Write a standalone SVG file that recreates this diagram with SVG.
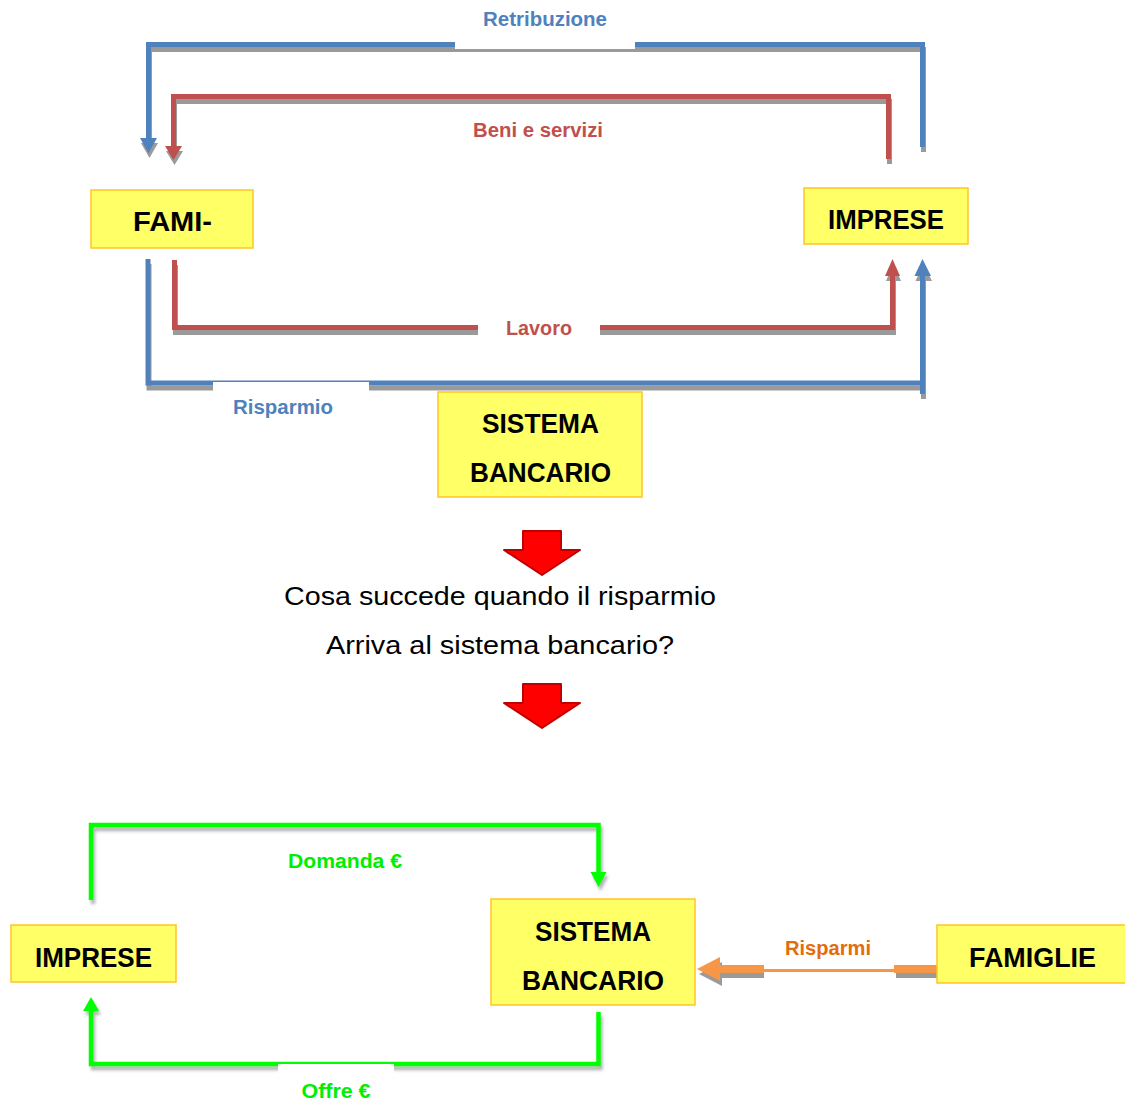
<svg xmlns="http://www.w3.org/2000/svg" width="1125" height="1102" viewBox="0 0 1125 1102">
<style>
.box{fill:#FFFF66;stroke:#FFC526;stroke-width:1.5}
.bt{font-family:"Liberation Sans",Arial,sans-serif;font-weight:bold;font-size:27.5px;fill:#000;text-anchor:middle}
.lb{font-family:"Liberation Sans",Arial,sans-serif;font-weight:bold;font-size:20px;text-anchor:middle}
.q{font-family:"Liberation Sans",Arial,sans-serif;font-size:26.5px;fill:#000;text-anchor:middle}
.sh{fill:none;stroke:#9A9A9A;stroke-width:5}
.shf{fill:#9A9A9A}
.blue{fill:none;stroke:#4F81BD;stroke-width:5}
.red{fill:none;stroke:#C0504D;stroke-width:5}
.grn{fill:none;stroke:#00FF00;stroke-width:4.5}
.gsh{fill:none;stroke:#B5B5B5;stroke-width:4.5}
.blk{fill:#FF0000;stroke:#C00000;stroke-width:2;stroke-linejoin:round}
</style>
<defs>
<filter id="blur" x="-10%" y="-10%" width="120%" height="120%"><feGaussianBlur stdDeviation="1.5"/></filter>
</defs>
<rect width="1125" height="1102" fill="#fff"/>

<g id="connectors">
  <g transform="translate(1,5)">
    <path class="sh" d="M922.5,147 V44.5 H148.5 V140"/>
    <polygon class="shf" points="140,138 157,138 148.5,153"/>
    <path class="sh" d="M888.5,159 V96.5 H173.5 V148"/>
    <polygon class="shf" points="165,146 182,146 173.5,160"/>
    <path class="sh" d="M148,259 V383 H922.5"/>
    <path class="sh" d="M922.5,394 V274"/>
    <polygon class="shf" points="914.5,276 931,276 922.5,259"/>
    <path class="sh" d="M174.5,260 V327.5 H892.5 V274"/>
    <polygon class="shf" points="885,276 900,276 892.5,259"/>
  </g>
  <g id="edge-retribuzione">
    <path class="blue" d="M922.5,147 V44.5 H148.5 V140"/>
    <polygon fill="#4F81BD" points="140,138 157,138 148.5,153"/>
  </g>
  <g id="edge-beni">
    <path class="red" d="M888.5,159 V96.5 H173.5 V148"/>
    <polygon fill="#C0504D" points="165,146 182,146 173.5,160"/>
  </g>
  <g id="edge-risparmio">
    <path class="blue" d="M148,259 V383 H922.5"/>
    <path class="blue" d="M922.5,394 V274"/>
    <polygon fill="#4F81BD" points="914.5,276 931,276 922.5,259"/>
  </g>
  <g id="edge-lavoro">
    <path class="red" d="M174.5,260 V327.5 H892.5 V274"/>
    <polygon fill="#C0504D" points="885,276 900,276 892.5,259"/>
  </g>
  <rect x="455" y="36" width="180" height="13" fill="#fff"/>
  <rect x="213" y="382" width="156" height="11" fill="#fff"/>
  <rect x="478" y="320" width="122" height="17" fill="#fff"/>

  <g filter="url(#blur)" transform="translate(2,4)">
    <path class="gsh" d="M91,900 V825 H598.5 V873"/>
    <polygon fill="#B5B5B5" points="590.5,872 606.5,872 598.5,887"/>
    <path class="gsh" d="M598.5,1012 V1064 H91 V1010"/>
    <polygon fill="#B5B5B5" points="83,1011 99,1011 91,997"/>
  </g>
  <g id="edge-domanda">
    <path class="grn" d="M91,900 V825 H598.5 V873"/>
    <polygon fill="#00FF00" points="590.5,872 606.5,872 598.5,887"/>
  </g>
  <g id="edge-offre">
    <path class="grn" d="M598.5,1012 V1064 H91 V1010"/>
    <polygon fill="#00FF00" points="83,1011 99,1011 91,997"/>
  </g>
  <rect x="278" y="1064" width="116" height="12" fill="#fff"/>

  <g id="edge-risparmi">
    <g transform="translate(2,5)">
      <rect x="718" y="965" width="46" height="8" fill="#9A9A9A"/>
      <rect x="894" y="965" width="43" height="8" fill="#9A9A9A"/>
      <polygon fill="#9A9A9A" points="697,969 720,957 720,981"/>
    </g>
    <rect x="718" y="965" width="219" height="8" fill="#F79646"/>
    <polygon fill="#F79646" points="697,969 720,957 720,981"/>
    <rect x="764" y="955" width="130" height="14" fill="#fff"/>
    <rect x="764" y="972" width="130" height="9" fill="#fff"/>
  </g>
</g>

<g id="labels">
  <text class="lb" x="545" y="26" fill="#4F81BD" textLength="124" lengthAdjust="spacingAndGlyphs">Retribuzione</text>
  <text class="lb" x="538" y="137" fill="#C0504D" textLength="130" lengthAdjust="spacingAndGlyphs">Beni e servizi</text>
  <text class="lb" x="539" y="335" fill="#C0504D" textLength="66" lengthAdjust="spacingAndGlyphs">Lavoro</text>
  <text class="lb" x="283" y="414" fill="#4F81BD" textLength="100" lengthAdjust="spacingAndGlyphs">Risparmio</text>
  <text class="lb" x="345" y="868" fill="#00EE00" textLength="114" lengthAdjust="spacingAndGlyphs">Domanda €</text>
  <text class="lb" x="336" y="1098" fill="#00EE00" textLength="69" lengthAdjust="spacingAndGlyphs">Offre €</text>
  <text class="lb" x="828" y="955" fill="#E46C0A" textLength="86" lengthAdjust="spacingAndGlyphs">Risparmi</text>
</g>

<g id="node-famiglie-top">
  <rect class="box" x="91" y="190" width="162" height="58"/>
  <text class="bt" x="172.5" y="231" textLength="79" lengthAdjust="spacingAndGlyphs">FAMI-</text>
</g>
<g id="node-imprese-top">
  <rect class="box" x="804" y="188" width="164" height="56"/>
  <text class="bt" x="886" y="229" textLength="116" lengthAdjust="spacingAndGlyphs">IMPRESE</text>
</g>
<g id="node-sistema-top">
  <rect class="box" x="438" y="392" width="204" height="105"/>
  <text class="bt" x="540.5" y="433" textLength="117" lengthAdjust="spacingAndGlyphs">SISTEMA</text>
  <text class="bt" x="540.5" y="482" textLength="141" lengthAdjust="spacingAndGlyphs">BANCARIO</text>
</g>

<g id="arrow-1">
  <polygon class="blk" points="523,531 561,531 561,550 580,550 542,575 504,550 523,550"/>
</g>
<g id="question">
  <text class="q" x="500" y="605" textLength="432" lengthAdjust="spacingAndGlyphs">Cosa succede quando il risparmio</text>
  <text class="q" x="500" y="654" textLength="348" lengthAdjust="spacingAndGlyphs">Arriva al sistema bancario?</text>
</g>
<g id="arrow-2">
  <polygon class="blk" points="523,684 561,684 561,703 580,703 542,728 504,703 523,703"/>
</g>

<g id="node-imprese-bottom">
  <rect class="box" x="11" y="925" width="165" height="57"/>
  <text class="bt" x="93.5" y="967" textLength="117" lengthAdjust="spacingAndGlyphs">IMPRESE</text>
</g>
<g id="node-sistema-bottom">
  <rect class="box" x="491" y="899" width="204" height="106"/>
  <text class="bt" x="593" y="941" textLength="116" lengthAdjust="spacingAndGlyphs">SISTEMA</text>
  <text class="bt" x="593" y="990" textLength="142" lengthAdjust="spacingAndGlyphs">BANCARIO</text>
</g>
<g id="node-famiglie-bottom">
  <rect class="box" x="937" y="925" width="190" height="58"/>
  <text class="bt" x="1032.5" y="967" textLength="127" lengthAdjust="spacingAndGlyphs">FAMIGLIE</text>
</g>
</svg>
